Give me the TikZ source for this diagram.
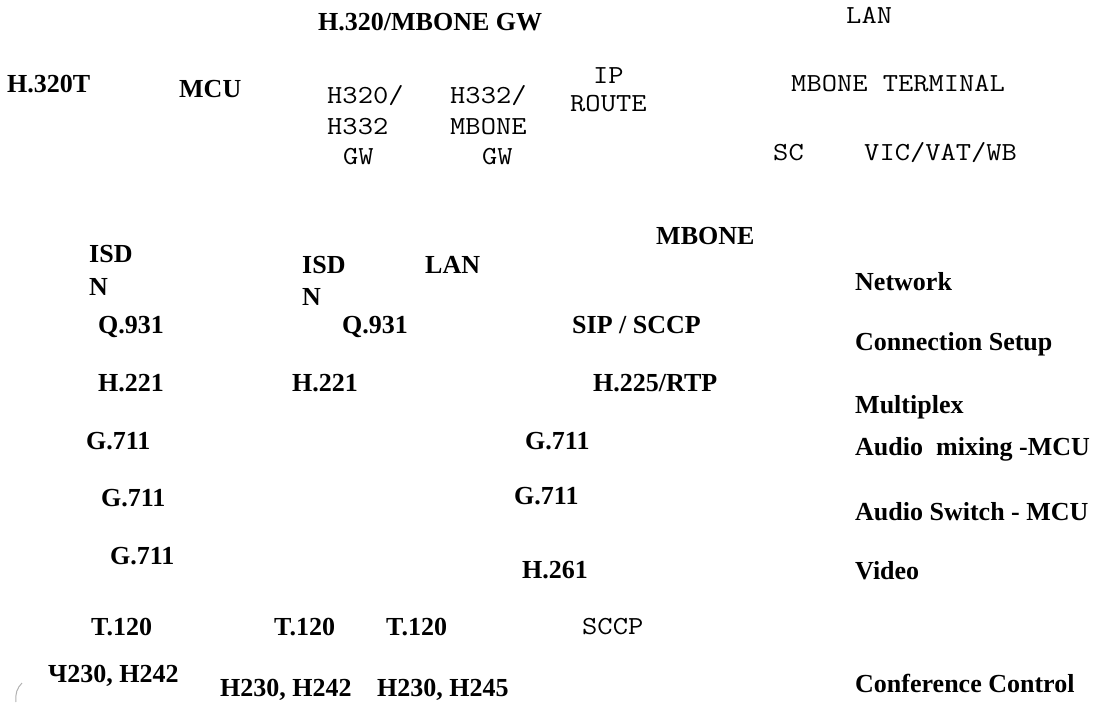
\documentclass[tikz,border=0pt]{standalone}
\usepackage{fontspec}
\setmainfont{Liberation Serif}
\begin{document}
\begin{tikzpicture}[x=1pt,y=-1pt,
  bs/.style={anchor=base west,inner sep=0pt,yshift=-8.5pt,font=\fontsize{26}{30}\selectfont\bfseries},
  rl/.style={bs},
  mo/.style={anchor=base west,inner sep=0pt,yshift=-8pt,font=\fontsize{26}{30}\selectfont\ttfamily,xscale=1.14}]
\useasboundingbox[fill=white] (0,0) rectangle (1095,702);
% top row
\node[bs] (gwtitle) at (318,22) {H.320/MBONE GW};
\node[mo] (lantop) at (846,15) {LAN};
\node[bs] (h320t) at (7,84) {H.320T};
\node[bs] (mcu) at (179,89) {MCU};
\node[mo] (gwa1) at (327,95) {H320/};
\node[mo] (gwa2) at (327,126) {H332};
\node[mo] (gwa3) at (343,156) {GW};
\node[mo] (gwb1) at (450,95) {H332/};
\node[mo] (gwb2) at (450,126) {MBONE};
\node[mo] (gwb3) at (482,156) {GW};
\node[mo] (ip1) at (593,75) {IP};
\node[mo] (ip2) at (570,103) {ROUTE};
\node[mo] (mbterm) at (791,83) {MBONE TERMINAL};
\node[mo] (sc) at (773,152) {SC};
\node[mo] (vic) at (864,152) {VIC/VAT/WB};
% network row
\node[bs] (isda1) at (89,254) {ISD};
\node[bs] (isda2) at (89,287) {N};
\node[bs] (isdb1) at (302,265) {ISD};
\node[bs] (isdb2) at (302,297) {N};
\node[bs] (lanmid) at (425,265) {LAN};
\node[bs] (mbone) at (656,236) {MBONE};
\node[rl] (lnet) at (855,282) {Network};
% connection setup
\node[bs] (qa) at (98,325) {Q.931};
\node[bs] (qb) at (342,325) {Q.931};
\node[bs] (sip) at (572,325) {SIP / SCCP};
\node[rl] (lcon) at (855,342) {Connection Setup};
% multiplex
\node[bs] (ha) at (98,383) {H.221};
\node[bs] (hb) at (292,383) {H.221};
\node[bs] (hc) at (593,383) {H.225/RTP};
\node[rl] (lmux) at (855,405) {Multiplex};
% audio mixing
\node[bs] (g1a) at (86,441) {G.711};
\node[bs] (g1b) at (525,441) {G.711};
\node[rl] (lmix) at (855,447) {Audio\ \ mixing -MCU};
% audio switch
\node[bs] (g2a) at (101,498) {G.711};
\node[bs] (g2b) at (514,496) {G.711};
\node[rl] (lsw) at (855,512) {Audio Switch - MCU};
% video
\node[bs] (g3a) at (110,556) {G.711};
\node[bs] (h261) at (522,570) {H.261};
\node[rl] (lvid) at (855,571) {Video};
% conference control
\node[bs] (ta) at (91,627) {T.120};
\node[bs] (tb) at (274,627) {T.120};
\node[bs] (tc) at (386,627) {T.120};
\node[mo] (sccp) at (582,626) {SCCP};
\node[rl] (lcc) at (855,684) {Conference Control};
\node[bs] (cca) at (48,674) {Ч230, H242};
\node[bs] (ccb) at (220,688) {H230, H242};
\node[bs] (ccc) at (377,688) {H230, H245};
% scan mark
\draw[gray!60,line width=1pt] (22,683) .. controls (17,688) and (15,694) .. (16,702);
\end{tikzpicture}
\end{document}
